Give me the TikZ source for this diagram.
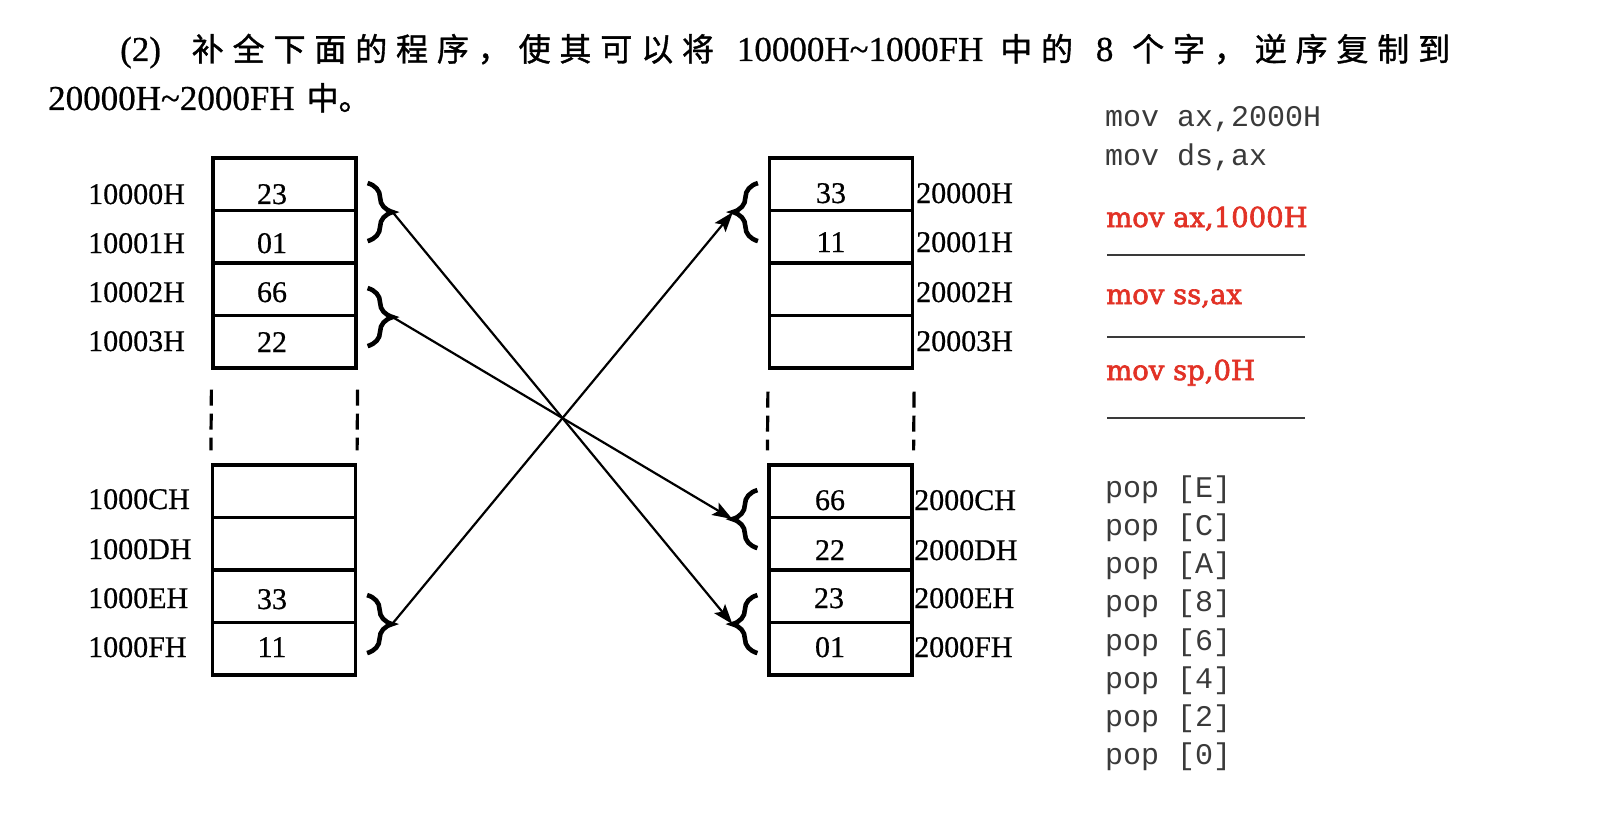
\documentclass[tikz,border=0pt]{standalone}
\usepackage{fontspec}
\usepackage{xcolor}
\setmainfont[FakeBold=0.6]{Liberation Serif}
\setmonofont{Liberation Mono}
\newfontfamily\cjk[FakeBold=1.2]{Noto Sans CJK SC}
\newfontfamily\rojofont[FakeBold=2.4]{DejaVu Serif}
\usetikzlibrary{shapes,arrows,arrows.meta,positioning,calc,decorations.pathreplacing}
\definecolor{rojo}{RGB}{226,50,38}
\definecolor{gris}{RGB}{58,58,58}
\newcommand{\zhtxt}{\cjk\fontsize{32}{38}\selectfont}
\newcommand{\latxt}{\rmfamily\fontsize{35}{40}\selectfont}

\begin{document}
\begin{tikzpicture}[x=1pt,y=-1pt]
  % Definir estilos
  \tikzstyle{celda}=[rectangle, draw, line width=3.2pt, minimum width=143pt, minimum height=52.5pt, inner sep=0pt]
  \tikzstyle{dir}=[anchor=base west, inner sep=0pt, font=\fontsize{30}{32}\selectfont]
  \tikzstyle{dato}=[anchor=base, inner sep=0pt, font=\fontsize{30}{32}\selectfont]
  \tikzstyle{hueco}=[line width=3.2pt, dash pattern=on 16pt off 8pt]
  \tikzstyle{llave}=[decorate, decoration={brace, amplitude=25pt}, line width=4.6pt]
  \tikzstyle{flecha}=[->, line width=2.2pt, >={Stealth[length=20pt,width=14pt,inset=4pt]}]
  \tikzstyle{codigo}=[anchor=base west, inner sep=0pt, text=gris, font=\ttfamily\fontsize{30}{32}\selectfont]
  \tikzstyle{resp}=[anchor=base west, inner sep=0pt, text=rojo, font=\rojofont\fontsize{27.5}{30}\selectfont]
  \tikzstyle{raya}=[line width=1.8pt, gris]

  \useasboundingbox (0,0) rectangle (1604,824);
  \fill[white] (0,0) rectangle (1604,824);

  % Enunciado
  \node[anchor=base west, inner sep=0pt] (t1) at (120,61) {\makebox[1330pt][s]{\latxt(2)\hspace{22pt plus 1fil}\zhtxt 补\hfil 全\hfil 下\hfil 面\hfil 的\hfil 程\hfil 序\hfil ，\hfil 使\hfil 其\hfil 可\hfil 以\hfil 将\hspace{14pt plus 1fil}\latxt 10000H\textasciitilde1000FH\hspace{8pt plus 1fil}\zhtxt 中\hfil 的\hspace{14pt plus 1fil}\latxt 8\hspace{10pt plus 1fil}\zhtxt 个\hfil 字\hfil ，\hfil 逆\hfil 序\hfil 复\hfil 制\hfil 到}};
  \node[anchor=base west, inner sep=0pt] (t2) at (48,110) {\latxt 20000H\textasciitilde2000FH\hspace{12pt}\zhtxt 中。};

  % Memoria origen (10000H ...)
  \node[celda] (o0) at (284.5,184.25) {};
  \node[celda] (o1) at (284.5,236.75) {};
  \node[celda] (o2) at (284.5,289.25) {};
  \node[celda] (o3) at (284.5,341.75) {};
  \node[celda] (o12) at (284,491.25) {};
  \node[celda] (o13) at (284,543.75) {};
  \node[celda] (o14) at (284,596.25) {};
  \node[celda] (o15) at (284,648.75) {};
  \draw[hueco] ($(o3.south west)+(0,20)$) -- ($(o12.north west)+(0,-13)$);
  \draw[hueco] ($(o3.south east)+(0,20)$) -- ($(o12.north east)+(0,-13)$);

  \node[dir] (ao0) at (88,204) {10000H};
  \node[dir] (ao1) at (88,253) {10001H};
  \node[dir] (ao2) at (88,302) {10002H};
  \node[dir] (ao3) at (88,351) {10003H};
  \node[dir] (ao12) at (88,509) {1000CH};
  \node[dir] (ao13) at (88,559) {1000DH};
  \node[dir] (ao14) at (88,608) {1000EH};
  \node[dir] (ao15) at (88,657) {1000FH};
  \node[dato] (vo0) at (272,204) {23};
  \node[dato] (vo1) at (272,253) {01};
  \node[dato] (vo2) at (272,302) {66};
  \node[dato] (vo3) at (272,352) {22};
  \node[dato] (vo14) at (272,609) {33};
  \node[dato] (vo15) at (272,657) {11};

  % Memoria destino (20000H ...)
  \node[celda] (d0) at (841,184.25) {};
  \node[celda] (d1) at (841,236.75) {};
  \node[celda] (d2) at (841,289.25) {};
  \node[celda] (d3) at (841,341.75) {};
  \node[celda] (d12) at (840.5,491.25) {};
  \node[celda] (d13) at (840.5,543.75) {};
  \node[celda] (d14) at (840.5,596.25) {};
  \node[celda] (d15) at (840.5,648.75) {};
  \draw[hueco] ($(d3.south west)+(0,22)$) -- ($(d12.north west)+(0,-13)$);
  \draw[hueco] ($(d3.south east)+(0,22)$) -- ($(d12.north east)+(0,-13)$);

  \node[dir] (ad0) at (916,203) {20000H};
  \node[dir] (ad1) at (916,252) {20001H};
  \node[dir] (ad2) at (916,302) {20002H};
  \node[dir] (ad3) at (916,351) {20003H};
  \node[dir] (ad12) at (914,510) {2000CH};
  \node[dir] (ad13) at (914,560) {2000DH};
  \node[dir] (ad14) at (914,608) {2000EH};
  \node[dir] (ad15) at (914,657) {2000FH};
  \node[dato] (vd0) at (831,203) {33};
  \node[dato] (vd1) at (831,252) {11};
  \node[dato] (vd12) at (830,510) {66};
  \node[dato] (vd13) at (830,560) {22};
  \node[dato] (vd14) at (829,608) {23};
  \node[dato] (vd15) at (830,657) {01};

  % Llaves (cada palabra = 2 bytes)
  \draw[llave] ($(o0.south east)+(10,-29)$) -- ($(o0.south east)+(10,29)$);
  \draw[llave] ($(o2.south east)+(10,-29)$) -- ($(o2.south east)+(10,29)$);
  \draw[llave] ($(o14.south east)+(10,-29)$) -- ($(o14.south east)+(10,29)$);
  \draw[llave] ($(d0.south west)+(-10,29)$) -- ($(d0.south west)+(-10,-29)$);
  \draw[llave] ($(d12.south west)+(-10,29)$) -- ($(d12.south west)+(-10,-29)$);
  \draw[llave] ($(d14.south west)+(-10,29)$) -- ($(d14.south west)+(-10,-29)$);
  \coordinate (l1) at ($(o0.south east)+(35,0)$);
  \coordinate (l2) at ($(o2.south east)+(35,0)$);
  \coordinate (l3) at ($(o14.south east)+(35,0)$);
  \coordinate (r1) at ($(d0.south west)+(-35,0)$);
  \coordinate (r2) at ($(d12.south west)+(-35,0)$);
  \coordinate (r3) at ($(d14.south west)+(-35,0)$);

  % Copia en orden inverso
  \draw[flecha] (l1) -- (r3);
  \draw[flecha] (l2) -- (r2);
  \draw[flecha] (l3) -- (r1);

  % Programa
  \node[codigo] (c1) at (1105,127) {mov ax,2000H};
  \node[codigo] (c2) at (1105,166) {mov ds,ax};
  \node[resp] (s1) at (1106,227) {mov ax,1000H};
  \draw[raya] (1107,255) -- (1305,255);
  \node[resp] (s2) at (1106,304) {mov ss,ax};
  \draw[raya] (1107,337) -- (1305,337);
  \node[resp] (s3) at (1106,380) {mov sp,0H};
  \draw[raya] (1107,418) -- (1305,418);
  \node[codigo] (p1) at (1105,497) {pop [E]};
  \node[codigo] (p2) at (1105,535) {pop [C]};
  \node[codigo] (p3) at (1105,573) {pop [A]};
  \node[codigo] (p4) at (1105,611) {pop [8]};
  \node[codigo] (p5) at (1105,650) {pop [6]};
  \node[codigo] (p6) at (1105,688) {pop [4]};
  \node[codigo] (p7) at (1105,726) {pop [2]};
  \node[codigo] (p8) at (1105,764) {pop [0]};
\end{tikzpicture}
\end{document}
